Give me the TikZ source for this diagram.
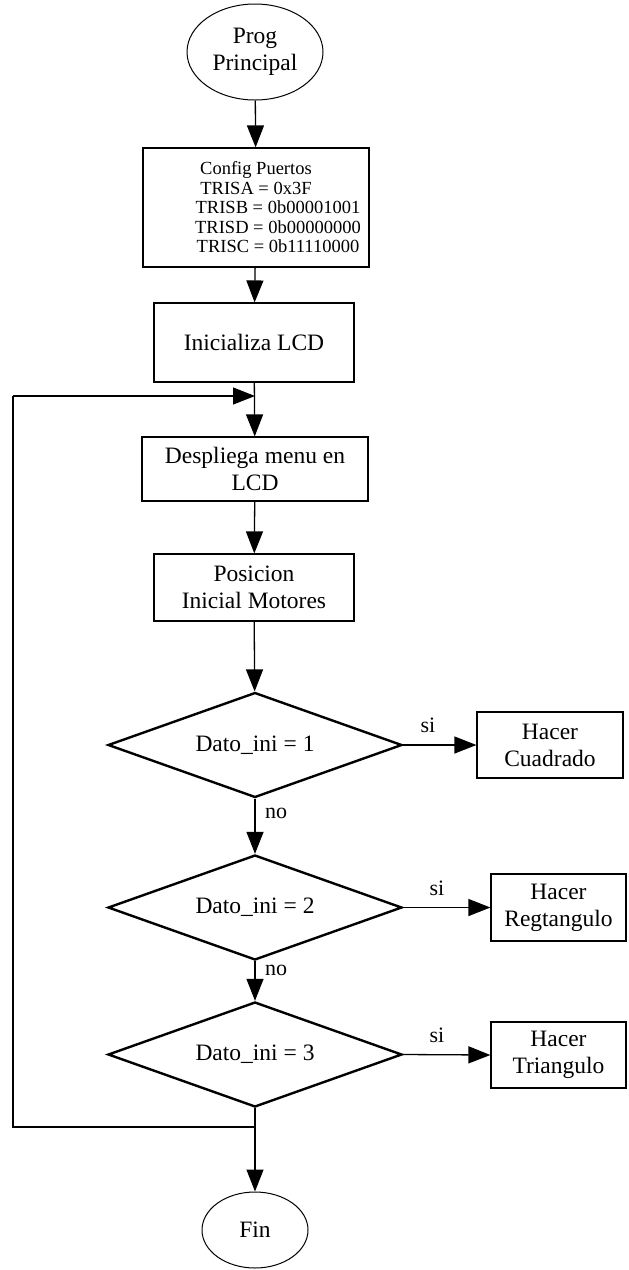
\documentclass[tikz,border=0pt]{standalone}
\usepackage{fontspec}
\setmainfont{Liberation Serif}
\usetikzlibrary{shapes.geometric,arrows.meta}

\begin{document}
\begin{tikzpicture}[x=1pt,y=-1pt,
  every node/.style={font=\fontsize{23.5}{27}\selectfont, align=center, inner sep=0pt},
  procbox/.style={draw, line width=1.2pt, rectangle},
  terminal/.style={draw, line width=1pt, ellipse},
  decision/.style={draw, line width=2.4pt, diamond, aspect=2.8,
                   minimum width=294pt, minimum height=105pt},
  flow/.style={line width=1.3pt, -{Triangle[length=22pt,width=17pt]}},
  plain/.style={line width=1.3pt},
  tag/.style={font=\fontsize{22}{25}\selectfont}]

\useasboundingbox (0,0) rectangle (629,1270);
\fill[white] (0,0) rectangle (629,1270);

% main column
\node[terminal, minimum width=136pt, minimum height=96pt] (start) at (255,52) {Prog\\Principal};
\node[procbox, minimum width=226pt, minimum height=119pt,
      font=\fontsize{18.5}{19.5}\selectfont] (cfg) at (256,207.5)
  {Config Puertos\\ TRISA = 0x3F\\
   \hspace*{44pt}TRISB = 0b00001001\\
   \hspace*{44pt}TRISD = 0b00000000\\
   \hspace*{44pt}TRISC = 0b11110000};
\node[procbox, minimum width=200pt, minimum height=79pt] (lcd) at (254,342.5) {Inicializa LCD};
\node[procbox, minimum width=226pt, minimum height=64pt] (menu) at (255,469) {Despliega menu en\\LCD};
\node[procbox, minimum width=200pt, minimum height=67pt] (pos) at (254,587.5) {Posicion\\Inicial Motores};

% decisions
\node[decision] (d1) at (255,745) {Dato\_ini = 1};
\node[decision] (d2) at (255,907.5) {Dato\_ini = 2};
\node[decision] (d3) at (255,1054.5) {Dato\_ini = 3};

% actions
\node[procbox, minimum width=146pt, minimum height=66pt] (cuad) at (550,745) {Hacer\\Cuadrado};
\node[procbox, minimum width=135pt, minimum height=67pt] (rect) at (558.5,907.5) {Hacer\\Regtangulo};
\node[procbox, minimum width=135pt, minimum height=66pt] (tri) at (558.5,1055) {Hacer\\Triangulo};

% end
\node[terminal, minimum width=106pt, minimum height=76pt] (fin) at (255,1230) {Fin};

% loop back points
\coordinate (j) at (255,1127);
\coordinate (lb) at (13,1127);
\coordinate (lt) at (13,396);
\coordinate (le) at (255,396);

% connectors
\draw[flow] (start) -- (cfg);
\draw[flow] (cfg) -- (lcd);
\draw[flow] (lcd) -- (menu);
\draw[flow] (menu) -- (pos);
\draw[flow] (pos) -- (d1);
\draw[flow] (d1) -- (d2);
\draw[flow] (d2) -- (d3);
\draw[flow] (d3) -- (fin);
\draw[flow] (d1.east) -- (cuad.west);
\draw[flow] (d2.east) -- (rect.west);
\draw[flow] (d3.east) -- (tri.west);
\draw[plain] (j) -- (lb) -- (lt);
\draw[flow] (lt) -- (le);

% branch labels
\node[tag] (si1) at (428,725) {si};
\node[tag] (si2) at (437,888) {si};
\node[tag] (si3) at (437,1035) {si};
\node[tag] (no1) at (276,813) {no};
\node[tag] (no2) at (276,970) {no};

\end{tikzpicture}
\end{document}
